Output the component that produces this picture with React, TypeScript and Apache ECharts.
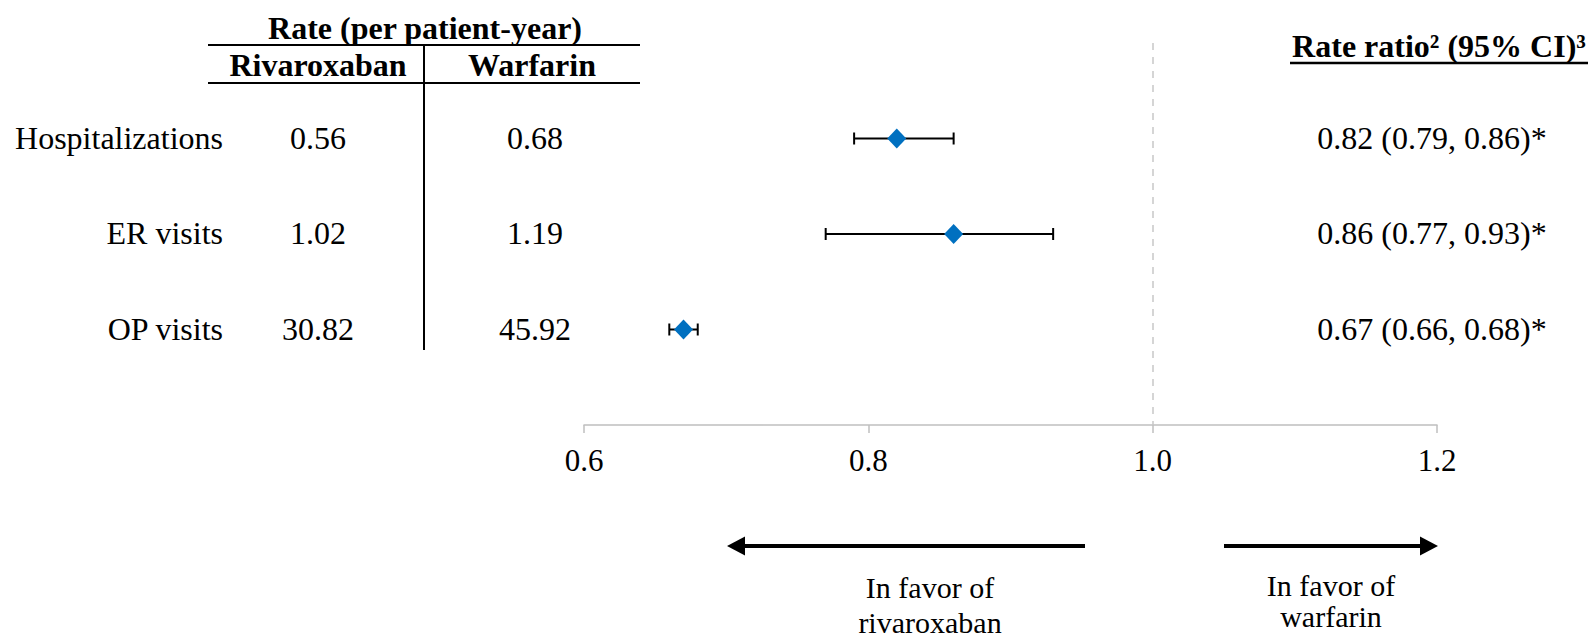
import React, { useEffect, useRef } from "react";
import * as echarts from "echarts";

const rowLabels = ["Hospitalizations", "ER visits", "OP visits"];
const rivaroxabanRates = ["0.56", "1.02", "30.82"];
const warfarinRates = ["0.68", "1.19", "45.92"];
const rateRatios = [0.82, 0.86, 0.67];
const ciLower = [0.79, 0.77, 0.66];
const ciUpper = [0.86, 0.93, 0.68];
const xMin = 0.6;
const xMax = 1.2;
const xStep = 0.2;
const referenceValue = 1.0;

const FONT = "Liberation Serif";

export default function App() {
  const ref = useRef<HTMLDivElement>(null);

  useEffect(() => {
    if (!ref.current) return;
    const chart = echarts.init(ref.current, null, { renderer: "svg" });

    const ratioLabels = rateRatios.map(
      (r, i) => `${r.toFixed(2)} (${ciLower[i].toFixed(2)}, ${ciUpper[i].toFixed(2)})*`
    );

    const errData = rowLabels.map((_, i) => [i + 1, rateRatios[i], ciLower[i], ciUpper[i]]);

    const txt = (x: number, y: number, text: string, align: string, extra: any = {}) => ({
      type: "text",
      x,
      y,
      style: {
        text,
        fontFamily: FONT,
        fontSize: 32,
        fill: "#000",
        align,
        verticalAlign: "middle",
        ...extra,
      },
    });

    const option: any = {
      animation: false,
      backgroundColor: "#fff",
      textStyle: { fontFamily: FONT },
      grid: { left: 584, right: 155, top: 43, bottom: 213, containLabel: false },
      xAxis: {
        type: "value",
        position: "bottom",
        min: xMin,
        max: xMax,
        interval: xStep,
        splitLine: { show: false },
        axisLine: { show: true, onZero: false, lineStyle: { color: "#bfbfbf", width: 1.5 } },
        axisTick: { show: true, length: 8, lineStyle: { color: "#bfbfbf", width: 1.5 } },
        axisLabel: {
          color: "#000",
          fontFamily: FONT,
          fontSize: 31,
          margin: 20,
          formatter: (v: number) => v.toFixed(1),
        },
      },
      yAxis: { type: "value", min: 0, max: 4, inverse: true, show: false },
      series: [
        {
          type: "custom",
          clip: false,
          data: errData,
          encode: { x: [2, 3], y: 0 },
          renderItem: (params: any, api: any) => {
            const idx = params.dataIndex;
            const row = api.value(0);
            const p1 = api.coord([api.value(2), row]);
            const p2 = api.coord([api.value(3), row]);
            const y = p1[1];
            const cap = 6;
            const ls = { stroke: "#000", lineWidth: 2 };
            const ty = y - 1;
            return {
              type: "group",
              children: [
                { type: "line", shape: { x1: p1[0], y1: y, x2: p2[0], y2: y }, style: ls },
                { type: "line", shape: { x1: p1[0], y1: y - cap, x2: p1[0], y2: y + cap }, style: ls },
                { type: "line", shape: { x1: p2[0], y1: y - cap, x2: p2[0], y2: y + cap }, style: ls },
                txt(223, ty, rowLabels[idx], "right"),
                txt(318, ty, rivaroxabanRates[idx], "center"),
                txt(535, ty, warfarinRates[idx], "center"),
                txt(1432, ty, ratioLabels[idx], "center"),
              ],
            };
          },
          z: 2,
        },
        {
          type: "scatter",
          data: rowLabels.map((_, i) => [rateRatios[i], i + 1]),
          symbol: "diamond",
          symbolSize: [19, 20],
          itemStyle: { color: "#0070C0", opacity: 1 },
          z: 3,
          markLine: {
            silent: true,
            symbol: ["none", "none"],
            label: { show: false },
            lineStyle: { color: "#c8c8c8", width: 1.5, type: [7, 7] },
            data: [{ xAxis: referenceValue }],
            z: 1,
          },
        },
      ],
      graphic: [
        // left table header
        txt(425, 28, "Rate (per patient-year)", "center", { fontWeight: "bold" }),
        txt(318, 65, "Rivaroxaban", "center", { fontWeight: "bold" }),
        txt(532, 65, "Warfarin", "center", { fontWeight: "bold" }),
        { type: "line", shape: { x1: 208, y1: 45, x2: 640, y2: 45 }, style: { stroke: "#000", lineWidth: 2 } },
        { type: "line", shape: { x1: 208, y1: 83, x2: 640, y2: 83 }, style: { stroke: "#000", lineWidth: 2 } },
        { type: "line", shape: { x1: 424, y1: 45, x2: 424, y2: 350 }, style: { stroke: "#000", lineWidth: 2 } },
        // right header
        txt(1439, 46, "Rate ratio² (95% CI)³", "center", { fontWeight: "bold" }),
        { type: "line", shape: { x1: 1290, y1: 63, x2: 1588, y2: 63 }, style: { stroke: "#000", lineWidth: 2.5 } },
        // arrows
        { type: "line", shape: { x1: 1085, y1: 546, x2: 740, y2: 546 }, style: { stroke: "#000", lineWidth: 4 } },
        { type: "polygon", shape: { points: [[727, 546], [745, 536.5], [745, 555.5]] }, style: { fill: "#000" } },
        { type: "line", shape: { x1: 1224, y1: 546, x2: 1424, y2: 546 }, style: { stroke: "#000", lineWidth: 4 } },
        { type: "polygon", shape: { points: [[1438, 546], [1420, 536.5], [1420, 555.5]] }, style: { fill: "#000" } },
        txt(930, 587, "In favor of", "center", { fontSize: 30 }),
        txt(930, 622, "rivaroxaban", "center", { fontSize: 30 }),
        txt(1331, 585, "In favor of", "center", { fontSize: 30 }),
        txt(1331, 616, "warfarin", "center", { fontSize: 30 }),
      ],
    };

    chart.setOption(option);
    return () => chart.dispose();
  }, []);

  return (
    <div
      ref={ref}
      style={{ position: "fixed", left: 0, top: 0, width: "1592px", height: "638px", background: "#fff" }}
    />
  );
}
